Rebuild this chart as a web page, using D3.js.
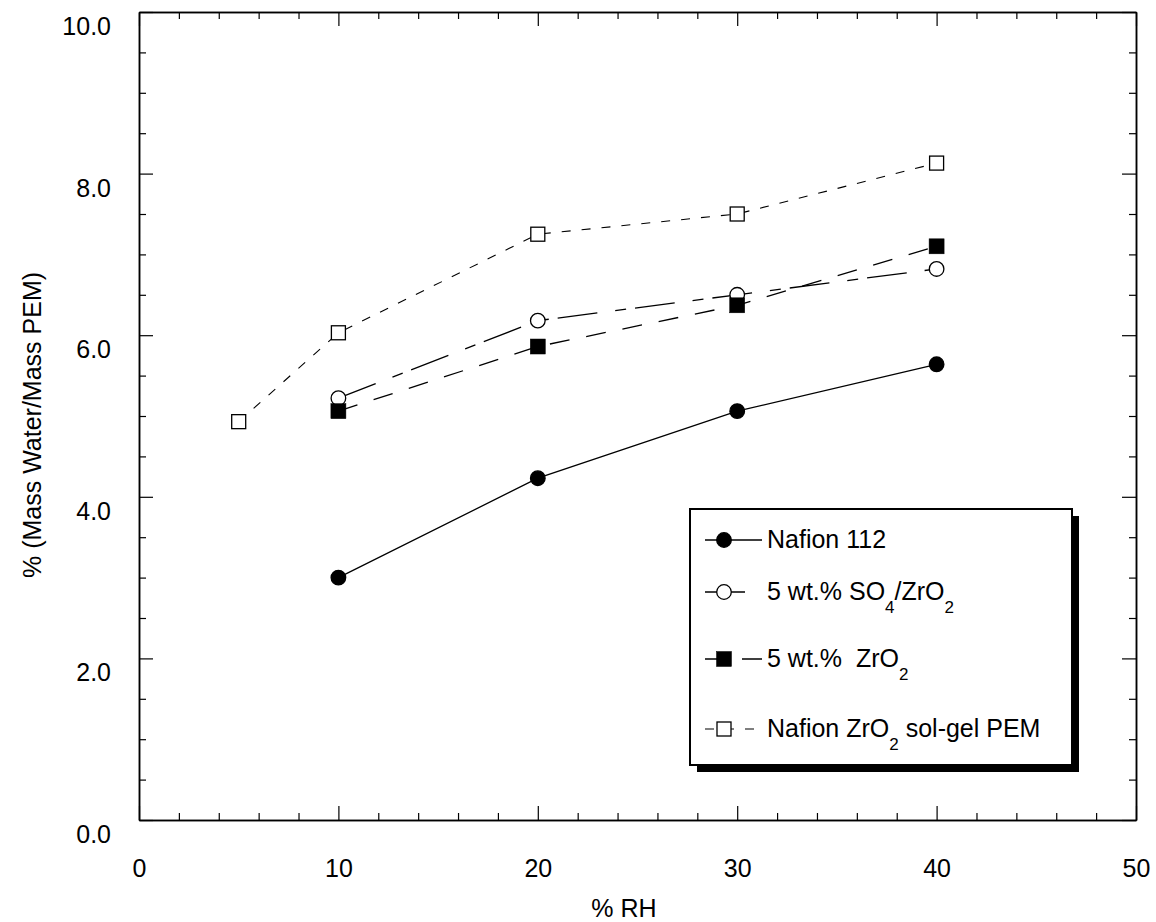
<!DOCTYPE html>
<html>
<head>
<meta charset="utf-8">
<script src="https://cdn.jsdelivr.net/npm/d3@7"></script>
<style>
  body { margin: 0; background: #fff; }
  svg { display: block; font-family: "Liberation Sans", Arial, sans-serif; }
</style>
</head>
<body>
<svg id="chart" width="1156" height="922"></svg>
<script>
// data
const rhNafion = [10, 20, 30, 40]
const waterNafion = [3.00, 4.23, 5.06, 5.64]

const rhSulfated = [10, 20, 30, 40]
const waterSulfated = [5.22, 6.18, 6.50, 6.82]

const rhZirconia = [10, 20, 30, 40]
const waterZirconia = [5.06, 5.86, 6.37, 7.10]

const rhSolGel = [5, 10, 20, 30, 40]
const waterSolGel = [4.93, 6.03, 7.25, 7.50, 8.13]

const xMajorTicks = [0, 10, 20, 30, 40, 50]
const yMajorTicks = [0, 2, 4, 6, 8, 10]

const series = [
  { name: ['Nafion 112'], xs: rhNafion, ys: waterNafion, marker: 'circle', fill: '#000', dash: null, width: 1.3 },
  { name: ['5 wt.% SO', '4', '/ZrO', '2'], xs: rhSulfated, ys: waterSulfated, marker: 'circle', fill: '#fff', dash: '40,18,11,9', width: 1.3 },
  { name: ['5 wt.%  ZrO', '2'], xs: rhZirconia, ys: waterZirconia, marker: 'square', fill: '#000', dash: '20,17', width: 1.3 },
  { name: ['Nafion ZrO', '2', ' sol-gel PEM'], xs: rhSolGel, ys: waterSolGel, marker: 'square', fill: '#fff', dash: '9,11', width: 1.1 }
]

const svg = d3.select('#chart')
const plotLeft = 139, plotRight = 1136, plotTop = 12, plotBottom = 820

const x = d3.scaleLinear().domain([0, 50]).range([plotLeft, plotRight])
const y = d3.scaleLinear().domain([0, 10]).range([plotBottom, plotTop])

const xMinor = d3.range(0, 50.01, 2).filter(v => !xMajorTicks.includes(v))
const yMinor = d3.range(0, 10.01, 0.5).filter(v => !yMajorTicks.includes(v))

// axes, ticks pointing inward on all four sides
function styleAxis(g) {
  g.attr('font-family', null).attr('font-size', null)
  g.selectAll('path.domain').attr('stroke', '#000').attr('stroke-width', 1.5)
  g.selectAll('.tick line').attr('stroke', '#000').attr('stroke-width', 1.2)
  g.selectAll('.tick text').attr('fill', '#000').style('font-size', '25px')
}

const axes = svg.append('g').attr('class', 'axes')

axes.append('g')
  .attr('transform', `translate(0,${plotBottom})`)
  .call(d3.axisBottom(x).tickValues(xMajorTicks).tickSize(-14).tickSizeOuter(0).tickPadding(39).tickFormat(d3.format('d')))
  .call(styleAxis)

axes.append('g')
  .attr('transform', `translate(0,${plotBottom})`)
  .call(d3.axisBottom(x).tickValues(xMinor).tickSize(-7).tickSizeOuter(0).tickFormat(''))
  .call(styleAxis)

axes.append('g')
  .attr('transform', `translate(${plotLeft},0)`)
  .call(d3.axisLeft(y).tickValues(yMajorTicks).tickSize(-14).tickSizeOuter(0).tickPadding(28).tickFormat(d3.format('.1f')))
  .call(styleAxis)
  .call(g => g.selectAll('.tick text').attr('dy', '0.9em'))

axes.append('g')
  .attr('transform', `translate(${plotLeft},0)`)
  .call(d3.axisLeft(y).tickValues(yMinor).tickSize(-7).tickSizeOuter(0).tickFormat(''))
  .call(styleAxis)

axes.append('g')
  .attr('transform', `translate(0,${plotTop})`)
  .call(d3.axisTop(x).tickValues(xMajorTicks).tickSize(-14).tickSizeOuter(0).tickFormat(''))
  .call(styleAxis)

axes.append('g')
  .attr('transform', `translate(0,${plotTop})`)
  .call(d3.axisTop(x).tickValues(xMinor).tickSize(-7).tickSizeOuter(0).tickFormat(''))
  .call(styleAxis)

axes.append('g')
  .attr('transform', `translate(${plotRight},0)`)
  .call(d3.axisRight(y).tickValues(yMajorTicks).tickSize(-14).tickSizeOuter(0).tickFormat(''))
  .call(styleAxis)

axes.append('g')
  .attr('transform', `translate(${plotRight},0)`)
  .call(d3.axisRight(y).tickValues(yMinor).tickSize(-7).tickSizeOuter(0).tickFormat(''))
  .call(styleAxis)

// axis titles
svg.append('text')
  .attr('x', 624)
  .attr('y', 917)
  .attr('text-anchor', 'middle')
  .style('font-size', '25px')
  .text('% RH')

svg.append('text')
  .attr('transform', 'translate(41,425) rotate(-90)')
  .attr('text-anchor', 'middle')
  .style('font-size', '25px')
  .text('% (Mass Water/Mass PEM)')

// markers
function drawMarker(g, kind, fill, cx, cy) {
  if (kind === 'circle') {
    g.append('circle')
      .attr('cx', cx).attr('cy', cy).attr('r', 7.3)
      .attr('fill', fill).attr('stroke', '#000').attr('stroke-width', 1.3)
  } else {
    const s = fill === '#000' ? 15 : 14
    g.append('rect')
      .attr('x', cx - s / 2).attr('y', cy - s / 2)
      .attr('width', s).attr('height', s)
      .attr('fill', fill).attr('stroke', '#000').attr('stroke-width', fill === '#000' ? 0.5 : 1.3)
  }
}

const line = d3.line().x(d => x(d[0])).y(d => y(d[1]))

const plot = svg.append('g').attr('class', 'series')
series.forEach(s => {
  const pts = s.xs.map((v, i) => [v, s.ys[i]])
  plot.append('path')
    .datum(pts)
    .attr('d', line)
    .attr('fill', 'none')
    .attr('stroke', '#000')
    .attr('stroke-width', s.width)
    .attr('stroke-dasharray', s.dash)
})
series.forEach(s => {
  const g = plot.append('g')
  s.xs.forEach((v, i) => drawMarker(g, s.marker, s.fill, x(v), y(s.ys[i])))
})

// legend
const legend = { x: 690, y: 509, w: 382, h: 256 }
const rowBaselines = [548, 600, 667, 737]

const lg = svg.append('g').attr('class', 'legend')
lg.append('rect')
  .attr('x', legend.x + 7).attr('y', legend.y + 7)
  .attr('width', legend.w).attr('height', legend.h)
  .attr('fill', '#000')
lg.append('rect')
  .attr('x', legend.x).attr('y', legend.y)
  .attr('width', legend.w).attr('height', legend.h)
  .attr('fill', '#fff').attr('stroke', '#000').attr('stroke-width', 2)

series.forEach((s, i) => {
  const cy = rowBaselines[i] - 8
  lg.append('line')
    .attr('x1', 705).attr('x2', 762)
    .attr('y1', cy).attr('y2', cy)
    .attr('stroke', '#000')
    .attr('stroke-width', s.width)
    .attr('stroke-dasharray', s.dash)
  drawMarker(lg, s.marker, s.fill, 724, cy)

  const t = lg.append('text')
    .attr('x', 767)
    .attr('y', rowBaselines[i])
    .style('font-size', '25px')
    .style('white-space', 'pre')
  s.name.forEach((part, j) => {
    // odd parts are subscripts
    const sub = j % 2 === 1
    t.append('tspan')
      .attr('dy', sub ? 13 : (j > 0 ? -13 : 0))
      .style('font-size', sub ? '17px' : '25px')
      .text(part)
  })
})
</script>
</body>
</html>
